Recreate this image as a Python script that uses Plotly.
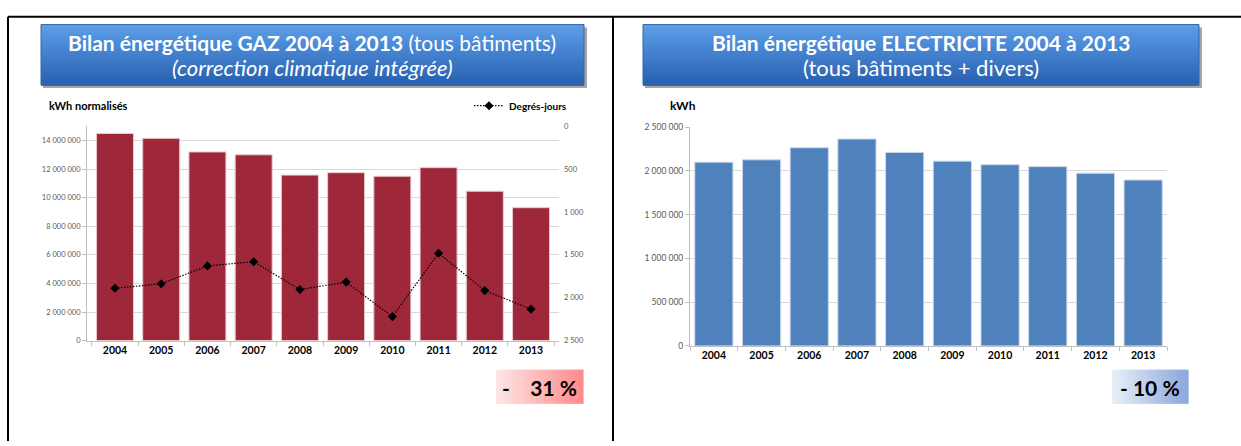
import plotly.graph_objects as go

# data
years = ["2004", "2005", "2006", "2007", "2008", "2009", "2010", "2011", "2012", "2013"]
gaz_kwh = [14490000, 14150000, 13200000, 13000000, 11580000, 11750000, 11500000, 12100000, 10450000, 9300000]
degres_jours = [1890, 1837, 1629, 1580, 1905, 1818, 2220, 1481, 1917, 2133]
elec_kwh = [2100000, 2127000, 2265000, 2365000, 2212000, 2112000, 2071000, 2049000, 1974000, 1896000]

gaz_ticks = [0, 2000000, 4000000, 6000000, 8000000, 10000000, 12000000, 14000000]
dj_ticks = [0, 500, 1000, 1500, 2000, 2500]
elec_ticks = [0, 500000, 1000000, 1500000, 2000000, 2500000]

W, H = 1241, 446
FONT = "Lato"


def px(x):
    return x / W


def py(y):
    return 1 - y / H


def mix(c0, c1, t):
    return "rgb(%d,%d,%d)" % tuple(round(a + (b - a) * t) for a, b in zip(c0, c1))


def gradient(x0, y0, x1, y1, c0, c1, n=24, vertical=True):
    """stack of thin rectangles faking a linear gradient (pixel coords)"""
    out = []
    for i in range(n):
        t = i / (n - 1)
        if vertical:
            a, b = y0 + (y1 - y0) * i / n, y0 + (y1 - y0) * (i + 1) / n + 0.6
            box = (px(x0), py(b), px(x1), py(a))
        else:
            a, b = x0 + (x1 - x0) * i / n, x0 + (x1 - x0) * (i + 1) / n + 0.6
            box = (px(a), py(y1), px(b), py(y0))
        out.append(dict(type="rect", xref="paper", yref="paper",
                        x0=box[0], y0=box[1], x1=box[2], y1=box[3],
                        line=dict(width=0), fillcolor=mix(c0, c1, t), layer="below"))
    return out


fig = go.Figure()

fig.add_trace(go.Bar(x=years, y=gaz_kwh, xaxis="x", yaxis="y",
                     marker=dict(color="#9e2839", line=dict(color="#e8c9cd", width=1)),
                     showlegend=False))
fig.add_trace(go.Scatter(x=years, y=degres_jours, xaxis="x", yaxis="y2",
                         mode="lines+markers", name="<b>Degrés-jours</b>",
                         line=dict(color="black", width=1.2, dash="1.5px,1.5px"),
                         marker=dict(symbol="diamond", size=7, color="black")))
fig.add_trace(go.Bar(x=years, y=elec_kwh, xaxis="x3", yaxis="y3",
                     marker=dict(color="#4f81bd", line=dict(color="#c9d7ea", width=1)),
                     showlegend=False))

tick_font = dict(family=FONT, size=7.5, color="#595959")
year_font = dict(family=FONT, size=10.5, color="black", weight="bold")
grid = "#d9d9d9"
axis_c = "#bfbfbf"

shapes = []
# page frame lines
for x0, y0, x1, y1 in [(8, 12, 1241, 12), (8, 12, 8, 446), (613, 12, 613, 446)]:
    shapes.append(dict(type="line", xref="paper", yref="paper",
                       x0=px(x0), y0=py(y0), x1=px(x1), y1=py(y1),
                       line=dict(color="black", width=2)))

# title boxes: shadow + gradient + border
for x0, x1 in [(41, 584), (643, 1199)]:
    shapes.append(dict(type="rect", xref="paper", yref="paper",
                       x0=px(x0 + 2), y0=py(85), x1=px(x1 + 3), y1=py(23),
                       line=dict(width=0), fillcolor="rgba(0,0,0,0.35)", layer="below"))
    shapes += gradient(x0, 20, x1, 82, (92, 158, 232), (40, 96, 176), n=30)
    shapes.append(dict(type="rect", xref="paper", yref="paper",
                       x0=px(x0), y0=py(82), x1=px(x1), y1=py(20),
                       line=dict(color="#3566a8", width=1), layer="below"))

# result badges
shapes += gradient(496, 373, 583, 408, (253, 228, 228), (255, 140, 140), n=20, vertical=False)
shapes += gradient(1112, 373, 1188, 408, (232, 238, 248), (140, 168, 220), n=20, vertical=False)

annotations = [
    dict(x=px(312), y=py(38), text="<b>Bilan énergétique GAZ 2004 à 2013</b> (tous bâtiments)",
         font=dict(family=FONT, size=21, color="white")),
    dict(x=px(312), y=py(64), text="<i>(correction climatique intégrée)</i>",
         font=dict(family=FONT, size=22, color="white")),
    dict(x=px(921), y=py(38), text="<b>Bilan énergétique ELECTRICITE 2004 à 2013</b>",
         font=dict(family=FONT, size=21, color="white")),
    dict(x=px(921), y=py(64), text="(tous bâtiments + divers)",
         font=dict(family=FONT, size=22, color="white")),
    dict(x=px(47), y=py(103), xanchor="left", text="<b>kWh normalisés</b>",
         font=dict(family=FONT, size=11, color="black")),
    dict(x=px(668), y=py(103), xanchor="left", text="<b>kWh</b>",
         font=dict(family=FONT, size=12, color="black")),
    dict(x=px(539), y=py(391), text="<b>-\u00a0\u00a0\u00a0 31 %</b>",
         font=dict(family=FONT, size=21, color="black")),
    dict(x=px(1150), y=py(391), text="<b>- 10 %</b>",
         font=dict(family=FONT, size=21, color="black")),
]
for a in annotations:
    a.update(xref="paper", yref="paper", showarrow=False)
    a.setdefault("xanchor", "center")
    a.setdefault("yanchor", "middle")

fig.update_layout(
    width=W, height=H,
    margin=dict(l=0, r=0, t=0, b=0),
    paper_bgcolor="white", plot_bgcolor="white",
    separators=", ",
    bargap=0.2,
    font=dict(family=FONT),
    shapes=shapes,
    annotations=annotations,
    legend=dict(x=px(572), y=py(103), xanchor="right", yanchor="middle",
                bgcolor="rgba(0,0,0,0)", font=dict(family=FONT, size=10, color="black"),
                itemwidth=30),
    xaxis=dict(domain=[px(87), px(559)], type="category", showline=True, linecolor=axis_c,
               ticks="outside", tickson="boundaries", ticklen=4, tickcolor=axis_c,
               tickfont=year_font, anchor="y"),
    yaxis=dict(domain=[py(343.3), py(124)], range=[0, 15000000], tickvals=gaz_ticks,
               tickformat=",d", showgrid=True, gridcolor=grid, showline=True,
               linecolor=axis_c, ticks="outside", ticklen=4, tickcolor=axis_c,
               tickfont=tick_font, zeroline=False, anchor="x"),
    yaxis2=dict(overlaying="y", side="right", range=[2500, 0], tickvals=dj_ticks,
                tickformat=",d", showgrid=False, zeroline=False, showline=False,
                tickfont=tick_font, anchor="x", ticklabelstandoff=4),
    xaxis3=dict(domain=[px(690), px(1167)], type="category", showline=True, linecolor=axis_c,
                ticks="outside", tickson="boundaries", ticklen=4, tickcolor=axis_c,
                tickfont=year_font, anchor="y3"),
    yaxis3=dict(domain=[py(348.7), py(125)], range=[0, 2500000], tickvals=elec_ticks,
                tickformat=",d", showgrid=True, gridcolor=grid, showline=True,
                linecolor=axis_c, ticks="outside", ticklen=4, tickcolor=axis_c,
                tickfont=dict(family=FONT, size=8.5, color="#595959"), zeroline=False,
                anchor="x3"),
)

# page body has a default 8px margin; remove it so the figure sits at the window origin
fig.write_html("out.html", config={"displayModeBar": False},
               post_script="document.body.style.margin='0';")
